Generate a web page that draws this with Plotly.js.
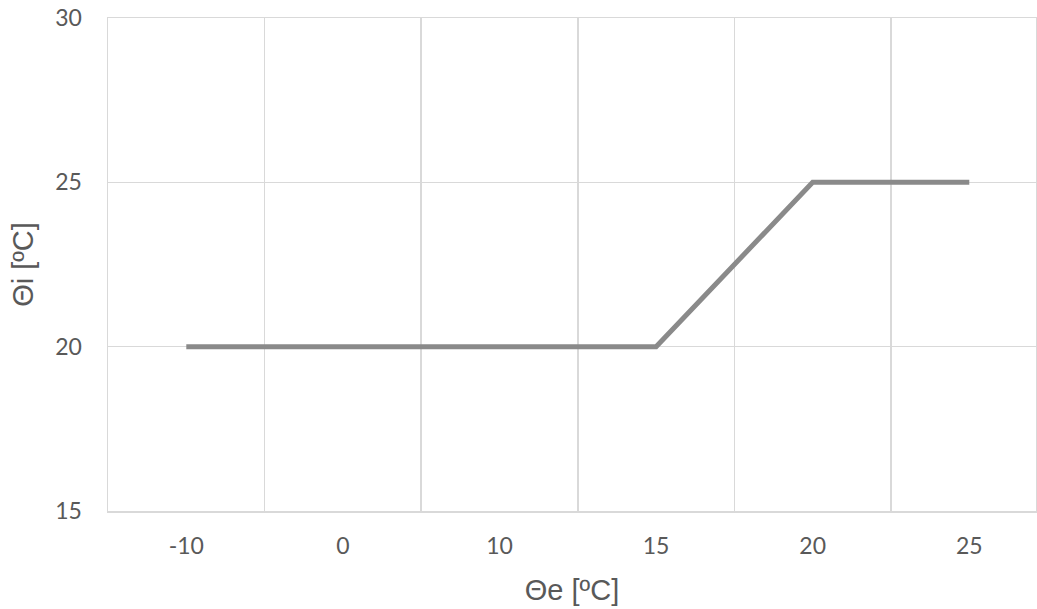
<!DOCTYPE html>
<html>
<head>
<meta charset="utf-8">
<script src="https://cdn.plot.ly/plotly-3.0.1.min.js"></script>
<style>
  html, body { margin: 0; padding: 0; background: #ffffff; }
  #chart { width: 1037px; height: 609px; }
</style>
</head>
<body>
<div id="chart"></div>
<script>
// Outdoor temperature categories and the indoor set-point for each
const outdoorTemps = ["-10", "0", "10", "15", "20", "25"];
const indoorSetpoint = [20, 20, 20, 20, 25, 25];

const yTicks = [15, 20, 25, 30];

const gridColor = "#d9d9d9";
const textColor = "#595959";
const tickFamily = "Lato, 'Open Sans', sans-serif";
const titleFamily = "'Liberation Sans', Arial, sans-serif";

const trace = {
  type: "scatter",
  mode: "lines",
  x: outdoorTemps,
  y: indoorSetpoint,
  line: { color: "#8a8a8a", width: 5 },
  hoverinfo: "x+y"
};

const layout = {
  width: 1037,
  height: 609,
  margin: { l: 108, r: 1, t: 18, b: 98 },
  paper_bgcolor: "#ffffff",
  plot_bgcolor: "#ffffff",
  showlegend: false,
  font: { family: tickFamily, color: textColor, size: 23 },
  xaxis: {
    type: "category",
    categoryorder: "array",
    categoryarray: outdoorTemps,
    range: [-0.5, 5.426],
    tickson: "boundaries",
    ticks: "",
    showgrid: true,
    gridcolor: gridColor,
    gridwidth: 1.5,
    showline: true,
    linecolor: gridColor,
    linewidth: 1.5,
    mirror: true,
    zeroline: false,
    ticklabelstandoff: 14,
    tickfont: { family: tickFamily, size: 23, color: textColor },
    title: {
      text: "\u0398e [\u00baC]",
      font: { family: titleFamily, size: 29, color: textColor },
      standoff: 21
    }
  },
  yaxis: {
    range: [15, 30],
    tickvals: yTicks,
    ticktext: yTicks.map(String),
    ticks: "",
    showgrid: true,
    gridcolor: gridColor,
    gridwidth: 1.5,
    showline: true,
    linecolor: gridColor,
    linewidth: 1.5,
    mirror: true,
    zeroline: false,
    ticklabelstandoff: 20,
    tickfont: { family: tickFamily, size: 23, color: textColor },
    title: {
      text: "\u0398i [\u00baC]",
      font: { family: titleFamily, size: 29, color: textColor },
      standoff: 13
    }
  }
};

Plotly.newPlot("chart", [trace], layout, { displayModeBar: false, staticPlot: true });
</script>
</body>
</html>
